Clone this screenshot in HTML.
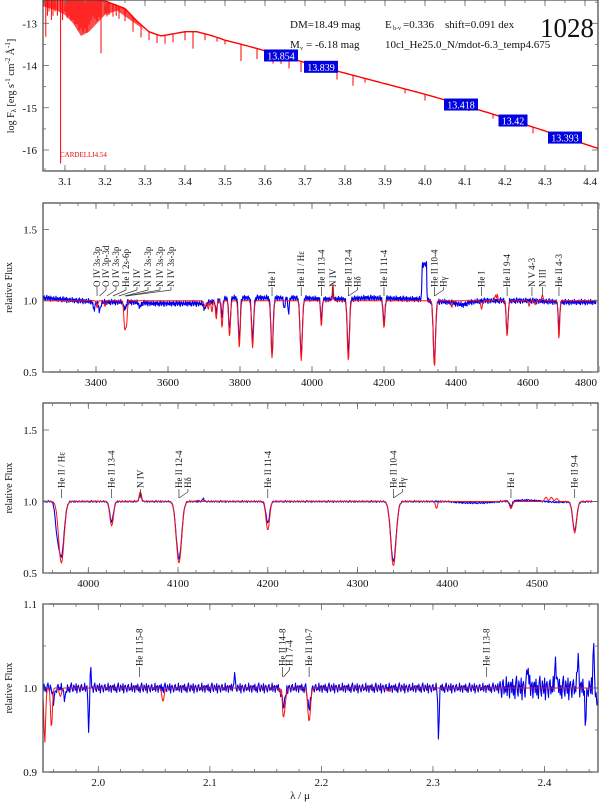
<!DOCTYPE html>
<html><head><meta charset="utf-8">
<style>
html,body{margin:0;padding:0;background:#fff;}
svg{display:block;font-family:"Liberation Serif",serif;}
</style></head>
<body>
<svg id="c" width="600" height="806" viewBox="0 0 600 806" xmlns="http://www.w3.org/2000/svg">
<defs>
<clipPath id="cp1"><rect x="43" y="0" width="555" height="171"/></clipPath>
<clipPath id="cp2"><rect x="43" y="203" width="555" height="169"/></clipPath>
<clipPath id="cp3"><rect x="43" y="403" width="555" height="170"/></clipPath>
<clipPath id="cp4"><rect x="43" y="604" width="555" height="168"/></clipPath>
</defs>
<g id="root"></g>
</svg>
<script>
// ---------- data ----------
const sedCont = [[3.045,-12.42],[3.15,-12.42],[3.2,-12.47],[3.25,-12.65],[3.28,-12.95],[3.31,-13.2],[3.34,-13.3],[3.37,-13.25],[3.4,-13.2],[3.43,-13.2],[3.47,-13.3],[3.5,-13.4],[3.55,-13.52],[3.6,-13.65],[3.7,-13.93],[3.8,-14.18],[3.9,-14.43],[4.0,-14.68],[4.1,-14.95],[4.2,-15.24],[4.3,-15.55],[4.435,-15.97]];
const sedEnvLow = [[3.045,-12.6],[3.08,-12.7],[3.1,-12.8],[3.12,-13.0],[3.14,-13.3],[3.16,-13.2],[3.18,-13.0],[3.2,-12.8],[3.23,-12.7],[3.26,-12.9],[3.29,-13.1],[3.3,-13.2]];
const sedSpikes = [[3.052,0.9],[3.056,0.4],[3.06,0.3],[3.066,0.5],[3.07,0.4],[3.075,0.3],[3.081,0.4],[3.089,3.9],[3.094,0.5],[3.1,0.3],[3.105,0.45],[3.11,0.4],[3.115,0.5],[3.12,0.5],[3.125,0.6],[3.13,0.6],[3.135,0.75],[3.14,0.7],[3.145,0.8],[3.15,0.7],[3.155,0.8],[3.16,0.6],[3.165,0.5],[3.17,0.4],[3.175,0.45],[3.18,0.5],[3.185,0.4],[3.19,1.25],[3.2,0.3],[3.205,0.35],[3.21,0.3],[3.22,0.3],[3.228,0.25],[3.235,0.3],[3.25,0.3],[3.27,0.35],[3.29,0.3],[3.31,0.2],[3.33,0.2],[3.35,0.2],[3.37,0.2],[3.4,0.2],[3.42,0.4],[3.45,0.15],[3.48,0.1],[3.5,0.1],[3.54,0.4],[3.58,0.25],[3.6,0.2],[3.62,0.25],[3.64,0.2],[3.66,0.25],[3.69,0.25],[3.72,0.15],[3.78,0.2],[3.82,0.25],[3.85,0.1],[3.95,0.1],[4.0,0.15],[4.06,0.1],[4.11,0.1],[4.17,0.1],[4.27,0.15]];
const magBoxes = [[3.64,"13.854"],[3.74,"13.839"],[4.09,"13.418"],[4.22,"13.42"],[4.35,"13.393"]];
const sedXTicks = [3.1,3.2,3.3,3.4,3.5,3.6,3.7,3.8,3.9,4.0,4.1,4.2,4.3,4.4];
const sedYTicks = [-13,-14,-15,-16];

const red2 = [[3403,-0.05,2],[3425,-0.04,2],[3480,-0.2,2.5],[3485,-0.15,2],[3703,-0.04,3],[3712,-0.06,2],[3722,-0.08,2],[3734,-0.13,2],[3750,-0.19,2.2],[3771,-0.25,2.4],[3798,-0.33,2.6],[3835,-0.33,2.8],[3889,-0.4,3],[3970,-0.42,3],[4026,-0.18,2],[4058,0.12,1.5],[4101,-0.42,3],[4200,-0.19,2.5],[4340,-0.46,3],[4388,-0.05,1.5],[4471,-0.06,2],[4510,0.04,2],[4515,0.05,1],[4542,-0.25,2.5],[4603,-0.04,1.5],[4620,-0.03,1.5],[4640,0.04,2],[4686,-0.27,2]];
const blue2 = [[3395,-0.05,3],[3410,-0.06,3],[3480,-0.05,3],[3522,-0.03,3],[3702,-0.04,3],[3734,-0.08,2],[3750,-0.12,2],[3771,-0.22,2.5],[3798,-0.3,2.6],[3835,-0.3,2.8],[3889,-0.38,3],[3923,-0.08,2],[3935,-0.1,2],[3970,-0.4,3.2],[4026,-0.16,2],[4058,0.05,1.5],[4101,-0.38,3],[4200,-0.17,2.5],[4340,-0.43,3.2],[4542,-0.22,2.5],[4686,-0.2,2]];
const blue2cont = [[3253,1.02],[3300,1.01],[3350,1.0],[3420,0.99],[3500,0.99],[3560,0.98],[3650,0.98],[3700,0.98],[3740,1.0],[3770,1.02],[3850,1.02],[3900,1.02],[3960,1.02],[4040,1.01],[4100,1.01],[4150,1.02],[4300,1.01],[4304,1.01],[4306,1.25],[4318,1.26],[4320,1.0],[4380,0.99],[4420,0.97],[4440,0.99],[4480,1.0],[4600,1.0],[4700,0.99],[4790,0.99]];
const p2XTicks = [3400,3600,3800,4000,4200,4400,4600,4800];
const relYTicks = [0.5,1.0,1.5];

const red3 = [[3970,-0.43,3],[4026,-0.17,2],[4058,0.07,1.2],[4101,-0.43,3],[4122,0.01,1],[4200,-0.2,2],[4340,-0.45,3],[4388,-0.05,1],[4471,-0.05,1.5],[4510,0.03,1.5],[4516,0.03,1.5],[4522,0.02,1.5],[4542,-0.22,2.2]];
const blue3 = [[3965,-0.15,2],[3970,-0.38,3],[4026,-0.14,2],[4058,0.05,1.2],[4101,-0.4,3],[4128,0.02,1],[4200,-0.15,2],[4340,-0.42,3],[4471,-0.04,1.5],[4542,-0.2,2.2]];
const blue3cont = [[3950,1.0],[4000,1.0],[4200,1.0],[4300,1.0],[4400,1.0],[4420,0.99],[4440,0.99],[4470,1.005],[4490,1.01],[4520,0.995],[4562,1.0]];
const p3XTicks = [4000,4100,4200,4300,4400,4500];

const red4 = [[1.952,-0.065,0.0008],[1.958,-0.048,0.0008],[1.966,-0.01,0.001],[2.058,-0.016,0.001],[2.1645,0.02,0.0004],[2.166,-0.035,0.0015],[2.189,-0.04,0.0012],[2.26,-0.004,0.001]];
const blue4 = [[1.9915,-0.06,0.0005],[1.993,0.025,0.0006],[1.96,-0.015,0.001],[1.97,-0.012,0.001],[2.122,0.017,0.0005],[2.166,-0.02,0.0015],[2.189,-0.025,0.0012],[2.305,-0.065,0.0005],[2.385,0.025,0.0008],[2.41,0.03,0.0008],[2.43,0.04,0.0006],[2.437,-0.045,0.0006],[2.444,0.048,0.0006],[2.447,-0.03,0.0005]];
const p4XTicks = [2.0,2.1,2.2,2.3,2.4];
const p4YTicks = [0.9,1.0,1.1];

const jitter = [0.01,-0.008,0.015,-0.012,0.004,-0.018,0.009,0.02,-0.005,-0.014,0.012,0.003,-0.009,0.017,-0.02,0.006,0.011,-0.003,-0.016,0.008,0.014,-0.01,0.002,-0.007,0.019,-0.013,0.005,0.01,-0.017,0.007];

const ids2 = [[3403,97,"O IV 3s-3p"],[3410,106,"O IV 3p-3d"],[3430,116,"O IV 3s-3p"],[3447,126,"He I 2s-6p"],[3463,137,"N IV"],[3480,148,"N IV 3s-3p"],[3483,160,"N IV 3s-3p"],[3485,171,"N IV 3s-3p"],[3889,0,"He I"],[3970,0,"He II / Hε"],[4026,0,"He II 13-4"],[4058,0,"N IV"],[4101,0,"He II 12-4"],[4101,9,"Hδ"],[4200,0,"He II 11-4"],[4340,0,"He II 10-4"],[4340,9,"Hγ"],[4471,0,"He I"],[4542,0,"He II 9-4"],[4611,0,"N V 4-3"],[4640,0,"N III"],[4686,0,"He II 4-3"]];
const ids3 = [[3970,0,"He II / Hε"],[4026,0,"He II 13-4"],[4058,0,"N IV"],[4101,0,"He II 12-4"],[4101,9,"Hδ"],[4200,0,"He II 11-4"],[4340,0,"He II 10-4"],[4340,9,"Hγ"],[4471,0,"He I"],[4542,0,"He II 9-4"]];
const ids4 = [[2.037,0,"He II 15-8"],[2.165,0,"He II 14-8"],[2.166,6,"H I 7-4"],[2.189,0,"He II 10-7"],[2.348,0,"He II 13-8"]];

// ---------- drawing ----------
const NS="http://www.w3.org/2000/svg";
const root=document.getElementById('root');
function mk(tag,attrs,parent){const e=document.createElementNS(NS,tag);for(const k in attrs)e.setAttribute(k,attrs[k]);(parent||root).appendChild(e);return e;}
function lin(d0,d1,r0,r1){return v=>r0+(v-d0)*(r1-r0)/(d1-d0);}
function interp(pts,x){if(x<=pts[0][0])return pts[0][1];for(let i=1;i<pts.length;i++){if(x<=pts[i][0]){const a=pts[i-1],b=pts[i];return a[1]+(b[1]-a[1])*(x-a[0])/(b[0]-a[0]);}}return pts[pts.length-1][1];}
function prof(lines,x){let s=0;for(const l of lines){const z=(x-l[0])/l[2];if(Math.abs(z)<6)s+=l[1]*Math.exp(-0.5*z*z);}return s;}

function frame(g,x0,y0,x1,y1,sx,sy,xt,xminor,yt,yminor,xfmt,yfmt){
  const fr=mk('rect',{x:x0,y:y0,width:x1-x0,height:y1-y0,fill:'none',stroke:'#444','stroke-width':1.2},g);
  
  
  const tg=mk('g',{stroke:'#666','stroke-width':0.8},g);
  
  
  xminor.forEach(v=>{const X=sx(v);mk('line',{x1:X,x2:X,y1:y1,y2:y1-3},tg);mk('line',{x1:X,x2:X,y1:y0,y2:y0+3},tg);});
  xt.forEach(v=>{const X=sx(v);mk('line',{x1:X,x2:X,y1:y1,y2:y1-6},tg);mk('line',{x1:X,x2:X,y1:y0,y2:y0+6},tg);
    const near=X>x1-14;
    const t=mk('text',{x:near?x1-1:X,y:y1+14,'text-anchor':near?'end':'middle','font-size':11,fill:'#111'},g);t.textContent=xfmt(v);
    
    });
  yminor.forEach(v=>{const Y=sy(v);mk('line',{x1:x0,x2:x0+3,y1:Y,y2:Y},tg);mk('line',{x1:x1,x2:x1-3,y1:Y,y2:Y},tg);});
  yt.forEach(v=>{const Y=sy(v);mk('line',{x1:x0,x2:x0+6,y1:Y,y2:Y},tg);mk('line',{x1:x1,x2:x1-6,y1:Y,y2:Y},tg);
    const t=mk('text',{x:x0-6,y:Y+4,'text-anchor':'end','font-size':11,fill:'#111'},g);t.textContent=yfmt(v);
    
    });
}
function range(a,b,s){const r=[];for(let v=a;v<=b+1e-9;v+=s)r.push(+v.toFixed(4));return r;}
function poly(g,pts,color,w,name){const p=mk('polyline',{points:pts.map(p=>p[0].toFixed(1)+','+p[1].toFixed(1)).join(' '),fill:'none',stroke:color,'stroke-width':w,'stroke-linejoin':'round'},g);
  
  return p;}
function ylabel(g,x,y,txt){const t=mk('text',{x:x,y:y,'text-anchor':'middle','font-size':10,fill:'#111',transform:`rotate(-90 ${x} ${y})`},g);t.textContent=txt;
  
  return t;}
function idLabels(g,ids,sx,textBottom,tickTop,tickBot){
  ids.forEach(d=>{const X=sx(d[0]);const tx=d[1]>20?d[1]:X+d[1];
    const lg=mk('g',{},g);
    
    
    const t=mk('text',{x:tx+3,y:textBottom,'font-size':9,fill:'#111',transform:`rotate(-90 ${tx+3} ${textBottom})`},lg);t.textContent=d[2];
    mk('line',{x1:tx,x2:tx,y1:tickTop,y2:tickTop+3,stroke:'#333','stroke-width':0.7},lg);
    mk('line',{x1:tx,x2:X,y1:tickTop+3,y2:tickBot,stroke:'#333','stroke-width':0.7},lg);
  });
}

// ---- Panel 1 ----
(function(){
  const g=mk('g',{});
  const sx=lin(3.1,4.4,65,585), sy=lin(-13,-16,23.3,150);
  const cg=mk('g',{'clip-path':'url(#cp1)'},g);
  const env=[];sedCont.filter(p=>p[0]<=3.3).forEach(p=>env.push([sx(p[0]),sy(p[1])]));
  sedEnvLow.slice().reverse().forEach(p=>env.push([sx(p[0]),sy(p[1])]));
  const pf=mk('polygon',{points:env.map(p=>p.join(',')).join(' '),fill:'#ff2020','fill-opacity':0.8},cg);
  
  const pts=[];for(let v=3.045;v<=4.44;v+=0.004)pts.push([sx(v),sy(interp(sedCont,v))]);
  poly(cg,pts,'#f00',1.4,'model-sed-line');
  const sg=mk('g',{stroke:'#f00','stroke-width':1},cg);
  sedSpikes.forEach(s=>{const c=interp(sedCont,s[0]);mk('line',{x1:sx(s[0]),x2:sx(s[0]),y1:sy(c),y2:sy(c-s[1])},sg);});
  magBoxes.forEach(b=>{const X=sx(b[0]),Y=sy(interp(sedCont,b[0]));
    const bg=mk('g',{},g);
    const w=b[1].length>5?34:29;
    mk('rect',{x:X-w/2,y:Y-6,width:w,height:12,fill:'#0000e0'},bg);
    const t=mk('text',{x:X,y:Y+4,'text-anchor':'middle','font-size':10,fill:'#fff'},bg);t.textContent=b[1];});
  frame(g,43,0,598,171,sx,sy,sedXTicks,range(3.05,4.4,0.05),sedYTicks,[-12.5,-13.5,-14.5,-15.5,-16.5],v=>v.toFixed(1),v=>String(v));
  const lab=mk('text',{x:60,y:157,'font-size':7,fill:'#e00'},g);lab.textContent='CARDELLI4.54';
  
  const tt=[[290,28,'DM=18.49 mag'],[385,28,'E'],[445,28,'shift=0.091 dex'],[290,48,'M'],[385,48,'10cl_He25.0_N/mdot-6.3_temp4.675']];
  tt.forEach(a=>{const t=mk('text',{x:a[0],y:a[1],'font-size':11,fill:'#111'},g);t.textContent=a[2];
    });
  const e1=mk('text',{x:393,y:30,'font-size':6,fill:'#111'},g);e1.textContent='b-v';
  
  const e2=mk('text',{x:403,y:28,'font-size':11,fill:'#111'},g);e2.textContent='=0.336';
  
  const m1=mk('text',{x:300,y:50,'font-size':6,fill:'#111'},g);m1.textContent='v';
  
  const m2=mk('text',{x:306,y:48,'font-size':11,fill:'#111'},g);m2.textContent=' =  -6.18 mag';
  
  const id=mk('text',{x:540,y:37,'font-size':27,fill:'#111'},g);id.textContent='1028';
  
  const yl=ylabel(g,14,86,'');yl.innerHTML='log F<tspan font-size="7" dy="2">λ</tspan><tspan dy="-2"> [erg s</tspan><tspan font-size="7" dy="-4">-1</tspan><tspan dy="4"> cm</tspan><tspan font-size="7" dy="-4">-2</tspan><tspan dy="4"> Å</tspan><tspan font-size="7" dy="-4">-1</tspan><tspan dy="4">]</tspan>';
})();

function normPanel(name,clip,y0,y1,xmin,xmax,x0px,x1px,xv0,xv1,ymin,ymax,yv0,yv1,redL,blueL,blueC,step,noiseAmp,xt,xminor,yt,yminor,xfmt,yfmt,blueEnd){
  const g=mk('g',{});
  const sx=lin(xv0,xv1,x0px,x1px), sy=lin(ymin,ymax,yv0,yv1);
  const cg=mk('g',{'clip-path':`url(#${clip})`},g);
  const bp=[],rp=[];let i=0;
  for(let v=xmin;v<=xmax;v+=step,i++){
    if(v<=blueEnd){const c=blueC?interp(blueC,v):1;bp.push([sx(v),sy(c+prof(blueL,v)+jitter[i%jitter.length]*noiseAmp(v))]);}
    rp.push([sx(v),sy(1+prof(redL,v))]);
  }
  poly(cg,bp,'#0000ee',1.1,'observed-spectrum');
  poly(cg,rp,'#ff1010',1.0,'model-spectrum');
  frame(g,43,y0,598,y1,sx,sy,xt,xminor,yt,yminor,xfmt,yfmt);
  ylabel(g,12,(y0+y1)/2,'relative Flux');
  return {g,sx};
}
const p2=normPanel('optical-panel-wide','cp2',203,372,3253,4802,96,600,3400,4800,1.0,0.5,300.7,372,red2,blue2,blue2cont,1.5,v=>1,p2XTicks,range(3300,4800,50),relYTicks,[],v=>String(v),v=>v.toFixed(1),4790);
idLabels(p2.g,ids2,p2.sx,287,287,296);
const p3=normPanel('optical-panel-zoom','cp3',403,573,3950,4568,88.3,537,4000,4500,1.0,0.5,501.5,573,red3,blue3,blue3cont,0.8,v=>0.3,p3XTicks,range(3960,4560,20),relYTicks,[],v=>String(v),v=>v.toFixed(1),4562);
idLabels(p3.g,ids3,p3.sx,488,489,498);
const p4=normPanel('k-band-panel','cp4',604,772,1.95,2.449,98.3,544.5,2.0,2.4,1.0,0.9,688,772,red4,blue4,null,0.0007,v=>v>2.36?0.7:0.3,p4XTicks,range(1.96,2.44,0.02),p4YTicks,[0.95,1.05],v=>v.toFixed(1),v=>v.toFixed(1),2.449);
idLabels(p4.g,ids4,p4.sx,666,667,677);
const xl=mk('text',{x:300,y:799,'text-anchor':'middle','font-size':11,fill:'#111'});xl.textContent='λ / μ';


</script>
</body></html>
